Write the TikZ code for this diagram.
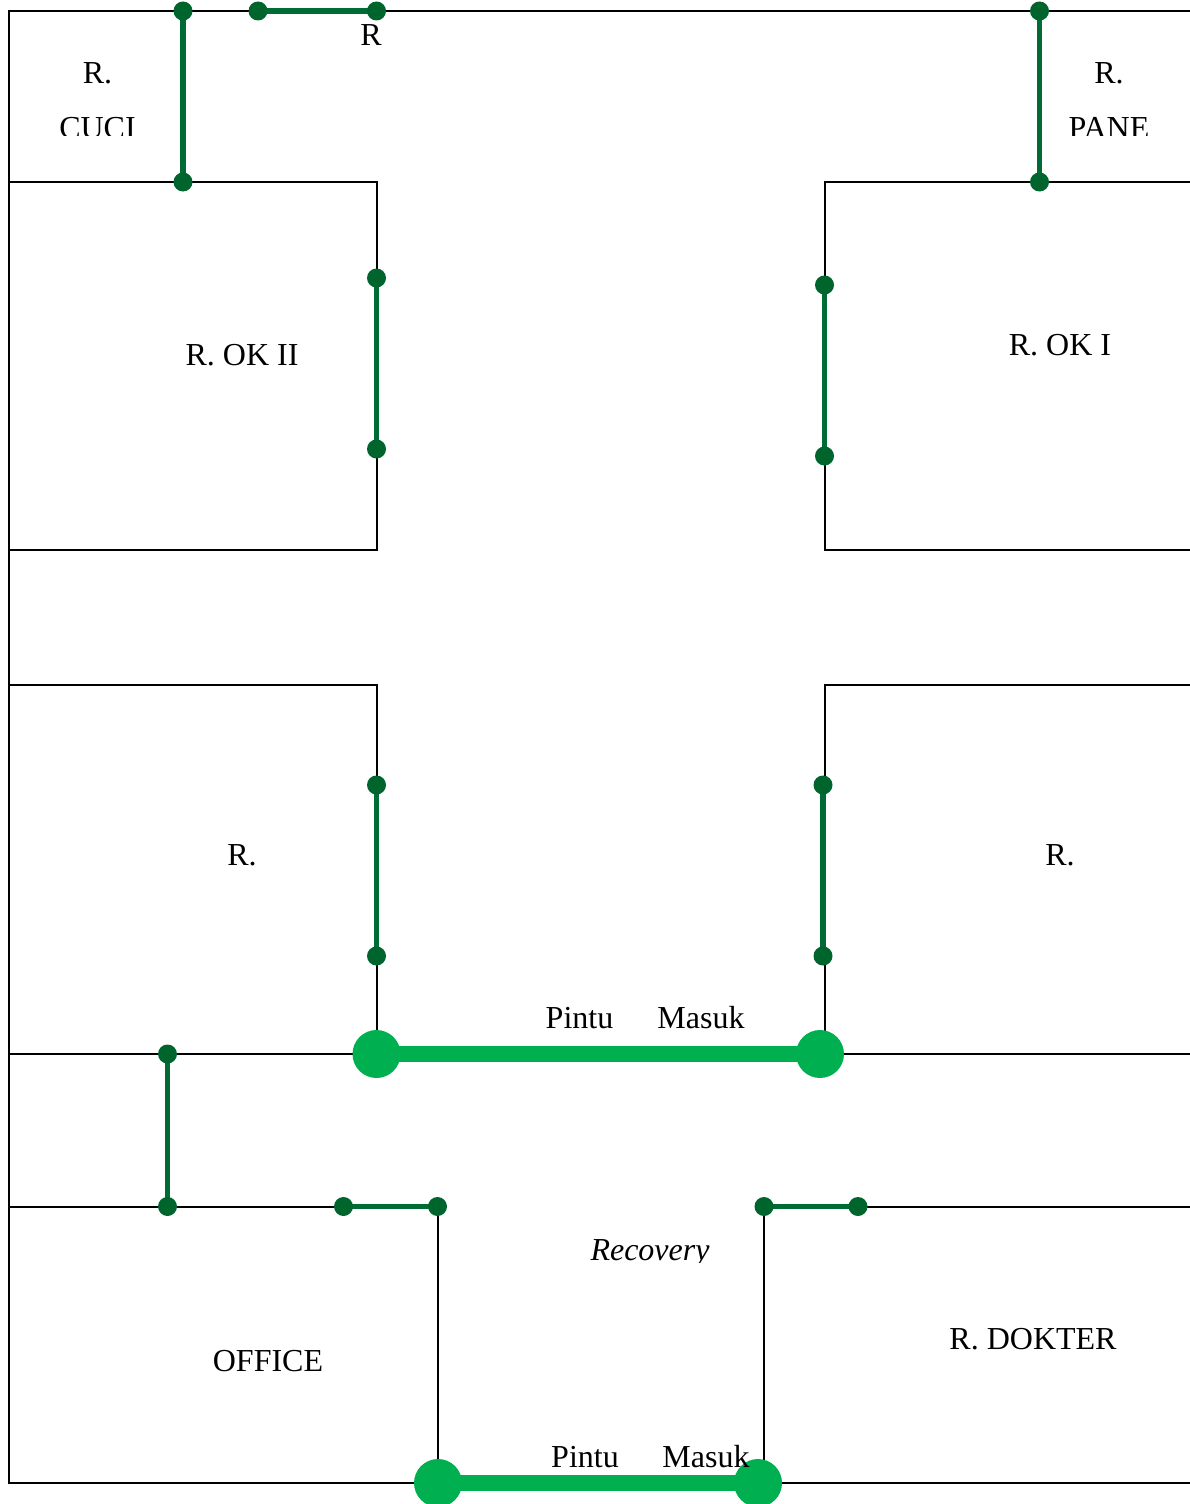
\documentclass[tikz,border=0pt]{standalone}
\usepackage{fontspec}
\setmainfont{Liberation Serif}
\definecolor{doorgreen}{HTML}{006B35}
\definecolor{dotgreen}{HTML}{00642D}
\definecolor{entrygreen}{HTML}{00B050}
\pgfdeclarelayer{wallslayer}
\pgfdeclarelayer{lineslayer}
\pgfsetlayers{wallslayer,lineslayer,main}
\tikzset{
  wall/.style={draw=black,line width=2pt,line join=miter},
  doorline/.style={draw=doorgreen,line width=5.5pt},
  entryline/.style={draw=entrygreen,line width=16pt},
  doordot/.style={circle,fill=dotgreen,draw=none,minimum size=19pt,inner sep=0pt,outer sep=0pt},
  entrydot/.style={circle,fill=entrygreen,draw=none,minimum size=48pt,inner sep=0pt,outer sep=0pt},
  lbl/.style={anchor=base,inner sep=0pt,font=\fontsize{32}{38}\selectfont,text=black}
}
\begin{document}
\begin{tikzpicture}[x=1pt,y=-1pt]
\useasboundingbox (0,0) rectangle (1190,1504);
% walls
\begin{pgfonlayer}{wallslayer}
\draw[wall] (1190,11) -- (9,11) -- (9,1483) -- (438,1483);
\draw[wall] (758,1483) -- (1190,1483);
\draw[wall] (9,182) -- (376.5,182) -- (376.5,550) -- (9,550);
\draw[wall] (1190,182) -- (825,182) -- (825,550) -- (1190,550);
\draw[wall] (9,685) -- (376.5,685) -- (376.5,1054);
\draw[wall] (1190,685) -- (825,685) -- (825,1054);
\draw[wall] (9,1054) -- (376.5,1054);
\draw[wall] (820,1054) -- (1190,1054);
\draw[wall] (9,1206.5) -- (438,1206.5) -- (438,1483);
\draw[wall] (1190,1206.5) -- (764,1206.5) -- (764,1483);
\end{pgfonlayer}
% door hinges
\node[doordot] (a1) at (183,11) {};
\node[doordot] (a2) at (183,182) {};
\node[doordot] (b1) at (258,11) {};
\node[doordot] (b2) at (376.5,11) {};
\node[doordot] (c1) at (1039.5,11) {};
\node[doordot] (c2) at (1039.5,182) {};
\node[doordot] (d1) at (376.5,278) {};
\node[doordot] (d2) at (376.5,449) {};
\node[doordot] (e1) at (824.5,285) {};
\node[doordot] (e2) at (824.5,456) {};
\node[doordot] (f1) at (376.5,785) {};
\node[doordot] (f2) at (376.5,956) {};
\node[doordot] (g1) at (823,785) {};
\node[doordot] (g2) at (823,956) {};
\node[doordot] (h1) at (167.5,1054) {};
\node[doordot] (h2) at (167.5,1206.5) {};
\node[doordot] (i1) at (343.5,1206.5) {};
\node[doordot] (i2) at (437.5,1206.5) {};
\node[doordot] (j1) at (764,1206.5) {};
\node[doordot] (j2) at (858,1206.5) {};
\begin{pgfonlayer}{lineslayer}
\foreach \p/\q in {a1/a2,b1/b2,c1/c2,d1/d2,e1/e2,f1/f2,g1/g2,h1/h2,i1/i2,j1/j2}
  \draw[doorline] (\p.center) -- (\q.center);
\end{pgfonlayer}
% entrances
\node[entrydot] (m1) at (376.5,1054) {};
\node[entrydot] (m2) at (820,1054) {};
\node[entrydot] (n1) at (438,1483) {};
\node[entrydot] (n2) at (758,1483) {};
\draw[entryline] (m1.center) -- (m2.center);
\draw[entryline] (n1.center) -- (n2.center);
% labels
\node[lbl] (t1) at (97.5,83) {R.};
\node[lbl] (t2) at (371,46) {R};
\node[lbl] (t3) at (1109,83) {R.};
\begin{scope}
  \clip (0,100) rectangle (1190,135.5);
  \node[lbl] (t4) at (97.5,138) {CUCI};
  \node[lbl] (t5) at (1109,138) {PANE};
\end{scope}
\node[lbl] (t6) at (242,365) {R. OK II};
\node[lbl] (t7) at (1060,355) {R. OK I};
\node[lbl] (t8) at (242,865) {R.};
\node[lbl] (t9) at (1060,865) {R.};
\node[lbl] (t10) at (579.5,1028) {Pintu};
\node[lbl] (t11) at (701,1028) {Masuk};
\begin{scope}
  \clip (500,1225) rectangle (800,1262);
  \node[lbl] (t12) at (650,1260) {\itshape Recovery};
\end{scope}
\node[lbl] (t13) at (268,1371) {OFFICE};
\node[lbl] (t14) at (1033,1349) {R. DOKTER};
\node[lbl] (t15) at (585,1467) {Pintu};
\node[lbl] (t16) at (706,1467) {Masuk};
\end{tikzpicture}
\end{document}
